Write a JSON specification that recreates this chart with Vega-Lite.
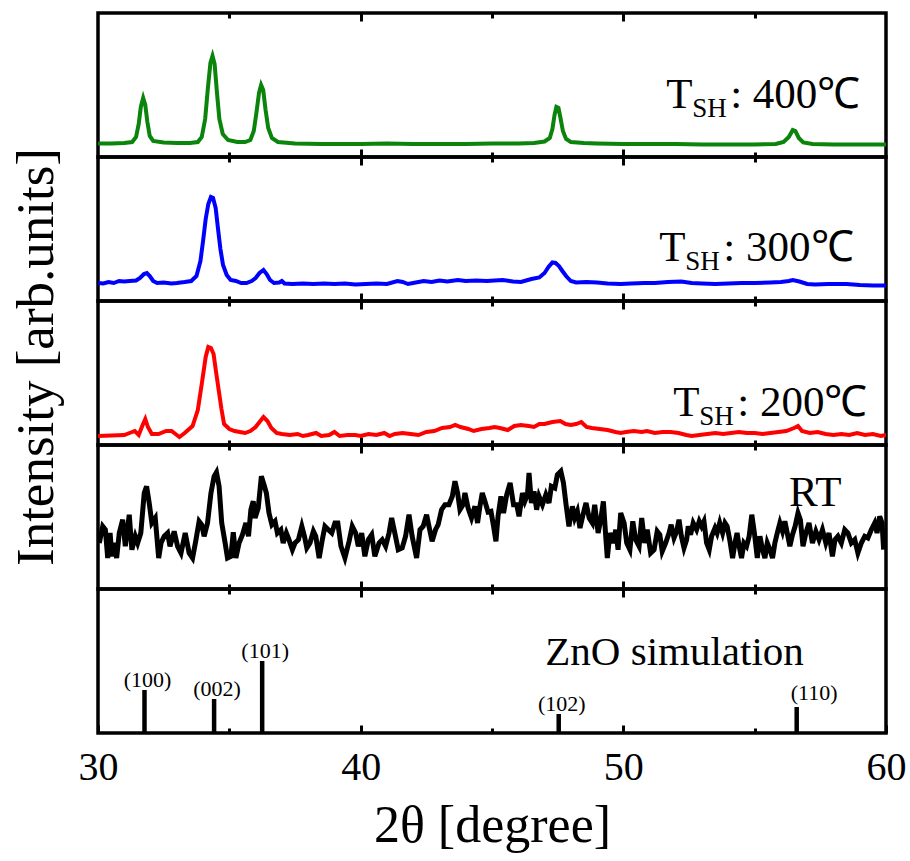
{
  "$schema": "https://vega.github.io/schema/vega-lite/v6.json",
  "background": "white",
  "padding": {"left": 9, "top": 9, "right": 5, "bottom": 5},
  "spacing": 0,
  "bounds": "flush",
  "config": {
    "view": {"stroke": "black", "strokeWidth": 3.5},
    "font": "Liberation Serif",
    "text": {"font": "Liberation Serif", "color": "black"}
  },
  "datasets": {
    "green": [
      {"theta":30.0,"intensity":13.5},{"theta":30.5,"intensity":13.5},{"theta":31.0,"intensity":14},{"theta":31.3,"intensity":15},{"theta":31.45,"intensity":20},{"theta":31.55,"intensity":33},{"theta":31.63,"intensity":50},{"theta":31.72,"intensity":59},{"theta":31.8,"intensity":52},{"theta":31.88,"intensity":35},{"theta":31.97,"intensity":21},{"theta":32.1,"intensity":16},{"theta":32.5,"intensity":14.5},{"theta":33.0,"intensity":14},{"theta":33.5,"intensity":14},{"theta":33.8,"intensity":15},{"theta":33.95,"intensity":20},{"theta":34.08,"intensity":38},{"theta":34.18,"intensity":68},{"theta":34.28,"intensity":94},{"theta":34.36,"intensity":101},{"theta":34.44,"intensity":93},{"theta":34.53,"intensity":64},{"theta":34.62,"intensity":38},{"theta":34.75,"intensity":23},{"theta":34.95,"intensity":17},{"theta":35.3,"intensity":15},{"theta":35.6,"intensity":15},{"theta":35.8,"intensity":17},{"theta":35.93,"intensity":26},{"theta":36.03,"intensity":44},{"theta":36.13,"intensity":64},{"theta":36.21,"intensity":72},{"theta":36.29,"intensity":67},{"theta":36.38,"intensity":47},{"theta":36.48,"intensity":29},{"theta":36.62,"intensity":19},{"theta":36.85,"intensity":15},{"theta":37.5,"intensity":13.5},{"theta":38.5,"intensity":13},{"theta":40,"intensity":13},{"theta":41,"intensity":13.5},{"theta":42,"intensity":13},{"theta":43,"intensity":13},{"theta":44,"intensity":13},{"theta":45,"intensity":13.5},{"theta":46,"intensity":13.5},{"theta":46.6,"intensity":14},{"theta":47.0,"intensity":15.5},{"theta":47.2,"intensity":19},{"theta":47.3,"intensity":28},{"theta":47.38,"intensity":42},{"theta":47.45,"intensity":50},{"theta":47.53,"intensity":49},{"theta":47.6,"intensity":40},{"theta":47.7,"intensity":26},{"theta":47.82,"intensity":18},{"theta":48.0,"intensity":15},{"theta":48.5,"intensity":14},{"theta":49,"intensity":13.5},{"theta":50,"intensity":13},{"theta":51,"intensity":13},{"theta":52,"intensity":13},{"theta":53,"intensity":12.5},{"theta":54,"intensity":12.5},{"theta":55,"intensity":12.5},{"theta":55.8,"intensity":13},{"theta":56.1,"intensity":15},{"theta":56.3,"intensity":20},{"theta":56.45,"intensity":27},{"theta":56.55,"intensity":26},{"theta":56.68,"intensity":19},{"theta":56.85,"intensity":14.5},{"theta":57.2,"intensity":13},{"theta":58,"intensity":12.5},{"theta":59,"intensity":12.5},{"theta":60,"intensity":12.5}
    ],
    "blue": [
      {"theta":30.0,"intensity":18},{"theta":30.2,"intensity":17.5},{"theta":30.4,"intensity":19},{"theta":30.6,"intensity":18},{"theta":30.8,"intensity":20},{"theta":31.0,"intensity":19.5},{"theta":31.2,"intensity":20},{"theta":31.45,"intensity":20.5},{"theta":31.6,"intensity":23},{"theta":31.75,"intensity":27},{"theta":31.86,"intensity":28},{"theta":31.97,"intensity":25},{"theta":32.1,"intensity":20},{"theta":32.25,"intensity":18},{"theta":32.5,"intensity":18.5},{"theta":32.8,"intensity":17.5},{"theta":33.0,"intensity":18},{"theta":33.3,"intensity":19},{"theta":33.55,"intensity":20},{"theta":33.75,"intensity":25},{"theta":33.9,"intensity":40},{"theta":34.0,"intensity":60},{"theta":34.1,"intensity":82},{"theta":34.2,"intensity":97},{"theta":34.3,"intensity":104},{"theta":34.38,"intensity":103},{"theta":34.48,"intensity":93},{"theta":34.57,"intensity":72},{"theta":34.66,"intensity":52},{"theta":34.76,"intensity":36},{"theta":34.9,"intensity":26},{"theta":35.05,"intensity":21},{"theta":35.25,"intensity":20},{"theta":35.45,"intensity":18},{"theta":35.65,"intensity":18},{"theta":35.85,"intensity":20},{"theta":36.0,"intensity":23},{"theta":36.15,"intensity":28},{"theta":36.3,"intensity":31},{"theta":36.42,"intensity":27},{"theta":36.55,"intensity":21},{"theta":36.7,"intensity":18},{"theta":36.9,"intensity":18.5},{"theta":37.0,"intensity":20},{"theta":37.1,"intensity":17.5},{"theta":37.4,"intensity":17},{"theta":37.8,"intensity":17.5},{"theta":38.2,"intensity":17},{"theta":38.6,"intensity":17.5},{"theta":39.0,"intensity":17},{"theta":39.4,"intensity":17.5},{"theta":39.8,"intensity":16.5},{"theta":40.2,"intensity":17},{"theta":40.6,"intensity":17.5},{"theta":41.0,"intensity":17},{"theta":41.4,"intensity":20},{"theta":41.6,"intensity":19},{"theta":41.8,"intensity":17},{"theta":42.1,"intensity":18.5},{"theta":42.4,"intensity":20},{"theta":42.7,"intensity":19},{"theta":43.0,"intensity":20.5},{"theta":43.3,"intensity":19.5},{"theta":43.7,"intensity":21},{"theta":44.0,"intensity":20},{"theta":44.4,"intensity":20.5},{"theta":44.8,"intensity":20},{"theta":45.1,"intensity":20.5},{"theta":45.4,"intensity":21},{"theta":45.8,"intensity":19.5},{"theta":46.1,"intensity":19},{"theta":46.5,"intensity":22},{"theta":46.8,"intensity":23.5},{"theta":47.0,"intensity":28},{"theta":47.15,"intensity":34},{"theta":47.3,"intensity":38.5},{"theta":47.42,"intensity":38},{"theta":47.55,"intensity":35},{"theta":47.68,"intensity":30},{"theta":47.82,"intensity":25},{"theta":48.0,"intensity":20},{"theta":48.2,"intensity":18.5},{"theta":48.6,"intensity":19},{"theta":49.0,"intensity":18.5},{"theta":49.4,"intensity":17.5},{"theta":49.9,"intensity":17},{"theta":50.3,"intensity":17.5},{"theta":50.8,"intensity":18},{"theta":51.2,"intensity":18},{"theta":51.7,"intensity":19},{"theta":52.2,"intensity":19.5},{"theta":52.6,"intensity":18},{"theta":53.0,"intensity":17.5},{"theta":53.5,"intensity":17},{"theta":54.0,"intensity":17.5},{"theta":54.5,"intensity":18},{"theta":55.0,"intensity":18},{"theta":55.6,"intensity":18.5},{"theta":56.0,"intensity":19},{"theta":56.3,"intensity":20},{"theta":56.45,"intensity":21},{"theta":56.7,"intensity":19.5},{"theta":57.0,"intensity":17},{"theta":57.3,"intensity":16.5},{"theta":57.8,"intensity":17},{"theta":58.5,"intensity":17},{"theta":59.0,"intensity":16},{"theta":59.5,"intensity":15.5},{"theta":60.0,"intensity":15.5}
    ],
    "red": [
      {"theta":30.0,"intensity":9},{"theta":30.5,"intensity":9.5},{"theta":31.0,"intensity":10},{"theta":31.2,"intensity":12},{"theta":31.4,"intensity":14},{"theta":31.55,"intensity":10},{"theta":31.7,"intensity":20},{"theta":31.8,"intensity":26},{"theta":31.9,"intensity":18},{"theta":32.05,"intensity":11},{"theta":32.3,"intensity":11},{"theta":32.6,"intensity":14},{"theta":32.8,"intensity":14},{"theta":33.0,"intensity":10},{"theta":33.1,"intensity":8},{"theta":33.3,"intensity":12},{"theta":33.6,"intensity":19},{"theta":33.8,"intensity":35},{"theta":33.95,"intensity":61},{"theta":34.1,"intensity":88},{"theta":34.2,"intensity":98},{"theta":34.3,"intensity":97},{"theta":34.4,"intensity":91},{"theta":34.5,"intensity":72},{"theta":34.6,"intensity":54},{"theta":34.7,"intensity":36},{"theta":34.8,"intensity":21},{"theta":35.0,"intensity":16},{"theta":35.2,"intensity":14},{"theta":35.4,"intensity":13},{"theta":35.6,"intensity":12},{"theta":35.8,"intensity":14},{"theta":36.0,"intensity":18},{"theta":36.15,"intensity":23},{"theta":36.3,"intensity":28},{"theta":36.45,"intensity":24},{"theta":36.6,"intensity":17},{"theta":36.8,"intensity":12},{"theta":37.0,"intensity":11},{"theta":37.3,"intensity":10},{"theta":37.6,"intensity":11},{"theta":37.8,"intensity":9},{"theta":38.0,"intensity":10},{"theta":38.3,"intensity":12},{"theta":38.5,"intensity":9},{"theta":38.8,"intensity":10},{"theta":39.0,"intensity":13},{"theta":39.2,"intensity":9},{"theta":39.5,"intensity":10},{"theta":39.8,"intensity":10},{"theta":40.0,"intensity":9},{"theta":40.3,"intensity":11},{"theta":40.6,"intensity":10},{"theta":40.9,"intensity":12},{"theta":41.1,"intensity":9},{"theta":41.3,"intensity":11},{"theta":41.6,"intensity":12},{"theta":41.9,"intensity":11},{"theta":42.2,"intensity":10},{"theta":42.5,"intensity":13},{"theta":42.8,"intensity":14},{"theta":43.1,"intensity":17},{"theta":43.4,"intensity":18},{"theta":43.6,"intensity":20},{"theta":43.8,"intensity":18},{"theta":44.1,"intensity":16},{"theta":44.3,"intensity":14},{"theta":44.6,"intensity":16},{"theta":44.9,"intensity":17},{"theta":45.1,"intensity":18},{"theta":45.3,"intensity":17},{"theta":45.6,"intensity":15},{"theta":45.85,"intensity":19},{"theta":46.1,"intensity":20},{"theta":46.4,"intensity":19},{"theta":46.6,"intensity":18},{"theta":46.8,"intensity":21},{"theta":47.0,"intensity":21},{"theta":47.3,"intensity":23},{"theta":47.6,"intensity":24},{"theta":47.8,"intensity":21},{"theta":48.0,"intensity":20},{"theta":48.2,"intensity":21},{"theta":48.4,"intensity":23},{"theta":48.6,"intensity":18},{"theta":48.8,"intensity":17},{"theta":49.1,"intensity":16},{"theta":49.4,"intensity":15},{"theta":49.7,"intensity":13},{"theta":49.9,"intensity":12},{"theta":50.1,"intensity":13},{"theta":50.4,"intensity":14},{"theta":50.7,"intensity":13},{"theta":50.9,"intensity":14},{"theta":51.2,"intensity":12},{"theta":51.5,"intensity":13},{"theta":51.8,"intensity":13},{"theta":52.1,"intensity":12},{"theta":52.4,"intensity":10},{"theta":52.6,"intensity":9},{"theta":52.9,"intensity":10},{"theta":53.2,"intensity":11},{"theta":53.5,"intensity":12},{"theta":53.8,"intensity":11},{"theta":54.1,"intensity":12},{"theta":54.4,"intensity":13},{"theta":54.7,"intensity":12},{"theta":55.0,"intensity":12},{"theta":55.3,"intensity":11},{"theta":55.6,"intensity":12},{"theta":55.9,"intensity":13},{"theta":56.2,"intensity":14},{"theta":56.5,"intensity":17},{"theta":56.65,"intensity":19},{"theta":56.8,"intensity":14},{"theta":57.1,"intensity":12},{"theta":57.4,"intensity":13},{"theta":57.7,"intensity":11},{"theta":58.0,"intensity":10},{"theta":58.3,"intensity":11},{"theta":58.6,"intensity":10},{"theta":58.9,"intensity":12},{"theta":59.2,"intensity":10},{"theta":59.5,"intensity":11},{"theta":59.8,"intensity":9},{"theta":60.0,"intensity":10}
    ],
    "rt": [
      {"theta":30.05,"intensity":46},{"theta":30.18,"intensity":62.7},{"theta":30.28,"intensity":59.3},{"theta":30.37,"intensity":31},{"theta":30.46,"intensity":56},{"theta":30.53,"intensity":32.7},{"theta":30.62,"intensity":46},{"theta":30.71,"intensity":31},{"theta":30.81,"intensity":56},{"theta":30.94,"intensity":69.3},{"theta":31.04,"intensity":42.7},{"theta":31.19,"intensity":74.3},{"theta":31.29,"intensity":39.3},{"theta":31.42,"intensity":52.7},{"theta":31.51,"intensity":46},{"theta":31.63,"intensity":56},{"theta":31.76,"intensity":96},{"theta":31.85,"intensity":102.7},{"theta":31.95,"intensity":86},{"theta":32.05,"intensity":66},{"theta":32.18,"intensity":71},{"theta":32.31,"intensity":31},{"theta":32.40,"intensity":46},{"theta":32.52,"intensity":52.7},{"theta":32.65,"intensity":56},{"theta":32.74,"intensity":42.7},{"theta":32.90,"intensity":57.7},{"theta":33.03,"intensity":42.7},{"theta":33.16,"intensity":36},{"theta":33.32,"intensity":56},{"theta":33.47,"intensity":36},{"theta":33.60,"intensity":31},{"theta":33.73,"intensity":49.3},{"theta":33.85,"intensity":67.7},{"theta":33.95,"intensity":64.3},{"theta":34.04,"intensity":52.7},{"theta":34.17,"intensity":66},{"theta":34.30,"intensity":96},{"theta":34.42,"intensity":112.7},{"theta":34.51,"intensity":116.7},{"theta":34.61,"intensity":102.7},{"theta":34.71,"intensity":66},{"theta":34.84,"intensity":46},{"theta":34.93,"intensity":31},{"theta":35.06,"intensity":32.7},{"theta":35.15,"intensity":56.7},{"theta":35.25,"intensity":31},{"theta":35.37,"intensity":46},{"theta":35.50,"intensity":54.3},{"theta":35.63,"intensity":66},{"theta":35.73,"intensity":52.7},{"theta":35.82,"intensity":79.3},{"theta":35.91,"intensity":87.7},{"theta":35.98,"intensity":71},{"theta":36.10,"intensity":81},{"theta":36.22,"intensity":112.7},{"theta":36.32,"intensity":104.3},{"theta":36.41,"intensity":96},{"theta":36.51,"intensity":76},{"theta":36.62,"intensity":64.3},{"theta":36.74,"intensity":67.7},{"theta":36.83,"intensity":56},{"theta":36.96,"intensity":59.3},{"theta":37.05,"intensity":46},{"theta":37.17,"intensity":56},{"theta":37.27,"intensity":49.3},{"theta":37.40,"intensity":39.3},{"theta":37.50,"intensity":46},{"theta":37.63,"intensity":49.3},{"theta":37.76,"intensity":62.7},{"theta":37.86,"intensity":52.7},{"theta":37.95,"intensity":41},{"theta":38.07,"intensity":46},{"theta":38.20,"intensity":57.7},{"theta":38.29,"intensity":52.7},{"theta":38.42,"intensity":31},{"theta":38.54,"intensity":49.3},{"theta":38.64,"intensity":62.7},{"theta":38.77,"intensity":59.3},{"theta":38.90,"intensity":56},{"theta":39.02,"intensity":66},{"theta":39.13,"intensity":66},{"theta":39.25,"intensity":42.7},{"theta":39.40,"intensity":31},{"theta":39.56,"intensity":47.7},{"theta":39.68,"intensity":62.7},{"theta":39.81,"intensity":56},{"theta":39.91,"intensity":42.7},{"theta":40.04,"intensity":56},{"theta":40.16,"intensity":32.7},{"theta":40.29,"intensity":49.3},{"theta":40.42,"intensity":54.3},{"theta":40.54,"intensity":32.7},{"theta":40.70,"intensity":46},{"theta":40.82,"intensity":49.3},{"theta":40.95,"intensity":42.7},{"theta":41.08,"intensity":56},{"theta":41.18,"intensity":71},{"theta":41.30,"intensity":56},{"theta":41.43,"intensity":39.3},{"theta":41.58,"intensity":41},{"theta":41.71,"intensity":52.7},{"theta":41.84,"intensity":74.3},{"theta":41.96,"intensity":52.7},{"theta":42.13,"intensity":31},{"theta":42.26,"intensity":59.3},{"theta":42.38,"intensity":62.7},{"theta":42.51,"intensity":74.3},{"theta":42.60,"intensity":62.7},{"theta":42.72,"intensity":47.7},{"theta":42.85,"intensity":59.3},{"theta":42.95,"intensity":64.3},{"theta":43.08,"intensity":79.3},{"theta":43.21,"intensity":84.3},{"theta":43.36,"intensity":84.3},{"theta":43.49,"intensity":92.7},{"theta":43.59,"intensity":107.7},{"theta":43.69,"intensity":96},{"theta":43.78,"intensity":79.3},{"theta":43.90,"intensity":84.3},{"theta":43.97,"intensity":96},{"theta":44.09,"intensity":81},{"theta":44.22,"intensity":71},{"theta":44.35,"intensity":82.7},{"theta":44.45,"intensity":66},{"theta":44.54,"intensity":82.7},{"theta":44.63,"intensity":96},{"theta":44.73,"intensity":87.7},{"theta":44.85,"intensity":77},{"theta":44.96,"intensity":77.7},{"theta":45.06,"intensity":62.7},{"theta":45.15,"intensity":47.7},{"theta":45.23,"intensity":72.7},{"theta":45.34,"intensity":92.7},{"theta":45.44,"intensity":76},{"theta":45.56,"intensity":94.3},{"theta":45.69,"intensity":106},{"theta":45.82,"intensity":84.3},{"theta":45.94,"intensity":84.3},{"theta":46.03,"intensity":72.7},{"theta":46.16,"intensity":96},{"theta":46.25,"intensity":87.7},{"theta":46.35,"intensity":94.3},{"theta":46.41,"intensity":116},{"theta":46.50,"intensity":86},{"theta":46.60,"intensity":97.7},{"theta":46.70,"intensity":79.3},{"theta":46.79,"intensity":92.7},{"theta":46.92,"intensity":84.3},{"theta":47.05,"intensity":94.3},{"theta":47.17,"intensity":86},{"theta":47.26,"intensity":102.7},{"theta":47.39,"intensity":101},{"theta":47.49,"intensity":114.3},{"theta":47.62,"intensity":117.7},{"theta":47.72,"intensity":106},{"theta":47.82,"intensity":84.3},{"theta":47.93,"intensity":62.7},{"theta":48.06,"intensity":82.7},{"theta":48.15,"intensity":71},{"theta":48.25,"intensity":77.7},{"theta":48.35,"intensity":61},{"theta":48.48,"intensity":76},{"theta":48.58,"intensity":86},{"theta":48.70,"intensity":71},{"theta":48.82,"intensity":66},{"theta":48.91,"intensity":84.3},{"theta":49.04,"intensity":56},{"theta":49.14,"intensity":69.3},{"theta":49.24,"intensity":87.7},{"theta":49.33,"intensity":52.7},{"theta":49.39,"intensity":31},{"theta":49.49,"intensity":56},{"theta":49.62,"intensity":46},{"theta":49.71,"intensity":59.3},{"theta":49.80,"intensity":39.3},{"theta":49.90,"intensity":76},{"theta":50.03,"intensity":66},{"theta":50.13,"intensity":46},{"theta":50.25,"intensity":39.3},{"theta":50.36,"intensity":67.7},{"theta":50.47,"intensity":49.3},{"theta":50.60,"intensity":42.7},{"theta":50.70,"intensity":71},{"theta":50.81,"intensity":46},{"theta":50.91,"intensity":59.3},{"theta":51.04,"intensity":36},{"theta":51.17,"intensity":39.3},{"theta":51.29,"intensity":57.7},{"theta":51.39,"intensity":54.3},{"theta":51.48,"intensity":37.7},{"theta":51.61,"intensity":46},{"theta":51.74,"intensity":56},{"theta":51.82,"intensity":64.3},{"theta":51.93,"intensity":51},{"theta":52.03,"intensity":57.7},{"theta":52.12,"intensity":69.3},{"theta":52.21,"intensity":52.7},{"theta":52.31,"intensity":41},{"theta":52.41,"intensity":49.3},{"theta":52.47,"intensity":62.7},{"theta":52.56,"intensity":54.3},{"theta":52.66,"intensity":66},{"theta":52.79,"intensity":59.3},{"theta":52.89,"intensity":67.7},{"theta":52.98,"intensity":62.7},{"theta":53.07,"intensity":67.7},{"theta":53.17,"intensity":46},{"theta":53.27,"intensity":39.3},{"theta":53.36,"intensity":52.7},{"theta":53.49,"intensity":61},{"theta":53.57,"intensity":56},{"theta":53.67,"intensity":66},{"theta":53.78,"intensity":56},{"theta":53.87,"intensity":66},{"theta":53.95,"intensity":62.7},{"theta":54.05,"intensity":49.3},{"theta":54.16,"intensity":31},{"theta":54.25,"intensity":46},{"theta":54.33,"intensity":56},{"theta":54.41,"intensity":42.7},{"theta":54.50,"intensity":31},{"theta":54.59,"intensity":46},{"theta":54.69,"intensity":42.7},{"theta":54.79,"intensity":52.7},{"theta":54.89,"intensity":74.3},{"theta":54.99,"intensity":56},{"theta":55.10,"intensity":31},{"theta":55.20,"intensity":52.7},{"theta":55.30,"intensity":39.3},{"theta":55.39,"intensity":31},{"theta":55.48,"intensity":46},{"theta":55.58,"intensity":39.3},{"theta":55.68,"intensity":31},{"theta":55.77,"intensity":46},{"theta":55.86,"intensity":56},{"theta":55.96,"intensity":66},{"theta":56.06,"intensity":57.7},{"theta":56.15,"intensity":67.7},{"theta":56.24,"intensity":56},{"theta":56.34,"intensity":42.7},{"theta":56.44,"intensity":54.3},{"theta":56.54,"intensity":62.7},{"theta":56.65,"intensity":76},{"theta":56.74,"intensity":69.3},{"theta":56.84,"intensity":42.7},{"theta":56.95,"intensity":56},{"theta":57.07,"intensity":66},{"theta":57.20,"intensity":46},{"theta":57.33,"intensity":57.7},{"theta":57.45,"intensity":49.3},{"theta":57.58,"intensity":59.3},{"theta":57.71,"intensity":46},{"theta":57.83,"intensity":56},{"theta":57.96,"intensity":32.7},{"theta":58.06,"intensity":49.3},{"theta":58.17,"intensity":52.7},{"theta":58.30,"intensity":46},{"theta":58.43,"intensity":59.3},{"theta":58.55,"intensity":56},{"theta":58.68,"intensity":46},{"theta":58.81,"intensity":49.3},{"theta":58.93,"intensity":36},{"theta":59.06,"intensity":46},{"theta":59.19,"intensity":52.7},{"theta":59.31,"intensity":51},{"theta":59.44,"intensity":59.3},{"theta":59.57,"intensity":66},{"theta":59.66,"intensity":56},{"theta":59.76,"intensity":72.7},{"theta":59.85,"intensity":66},{"theta":59.91,"intensity":39.3}
    ],
    "sticks": [
      {"theta":31.77,"intensity":43,"hkl":"(100)"},
      {"theta":34.42,"intensity":34,"hkl":"(002)"},
      {"theta":36.25,"intensity":72,"hkl":"(101)"},
      {"theta":47.54,"intensity":19,"hkl":"(102)"},
      {"theta":56.6,"intensity":26,"hkl":"(110)"}
    ]
  },
  "vconcat": [
    {
      "width": 788, "height": 144,
      "layer": [
        {
          "data": {"name": "green"},
          "mark": {"type": "line", "color": "#0b840b", "strokeWidth": 4, "clip": true},
          "encoding": {
            "x": {"field": "theta", "type": "quantitative", "scale": {"domain": [30, 60], "nice": false, "zero": false},
              "axis": {"orient": "bottom", "values": [35, 40, 45, 50, 55], "labels": false, "domain": false, "grid": false, "title": null, "tickColor": "black", "tickWidth": 3, "tickSize": {"condition": {"test": "datum.value % 10 === 0", "value": -8}, "value": -5}}},
            "y": {"field": "intensity", "type": "quantitative", "scale": {"domain": [0, 144], "nice": false, "zero": false}, "axis": null}
          }
        },
        {
          "data": {"values": [{"x": 51.63, "y": 49, "temp": ": 400℃"}]},
          "mark": {"type": "text", "align": "left", "baseline": "alphabetic", "fontSize": 43, "font": "Liberation Serif", "text": "T"},
          "encoding": {
            "x": {"field": "x", "type": "quantitative",
              "axis": {"orient": "top", "values": [35, 40, 45, 50, 55], "labels": false, "domain": false, "grid": false, "title": null, "tickColor": "black", "tickWidth": 3, "tickSize": {"condition": {"test": "datum.value % 10 === 0", "value": -8}, "value": -5}}},
            "y": {"field": "y", "type": "quantitative", "axis": null}
          }
        },
        {
          "data": {"values": [{"x": 51.63, "y": 49, "temp": ": 400℃"}]},
          "mark": {"type": "text", "align": "left", "baseline": "alphabetic", "fontSize": 27, "font": "Liberation Serif", "dx": 26, "dy": 9, "text": "SH"},
          "encoding": {
            "x": {"field": "x", "type": "quantitative", "axis": null},
            "y": {"field": "y", "type": "quantitative", "axis": null}
          }
        },
        {
          "data": {"values": [{"x": 51.63, "y": 49, "temp": ": 400℃"}]},
          "mark": {"type": "text", "align": "left", "baseline": "alphabetic", "fontSize": 43, "font": "Liberation Serif", "dx": 64},
          "encoding": {
            "x": {"field": "x", "type": "quantitative", "axis": null},
            "y": {"field": "y", "type": "quantitative", "axis": null},
            "text": {"field": "temp"}
          }
        }
      ],
      "resolve": {"axis": {"x": "independent"}}
    },
    {
      "width": 788, "height": 144,
      "layer": [
        {
          "data": {"name": "blue"},
          "mark": {"type": "line", "color": "#0000ff", "strokeWidth": 4, "clip": true},
          "encoding": {
            "x": {"field": "theta", "type": "quantitative", "scale": {"domain": [30, 60], "nice": false, "zero": false},
              "axis": {"orient": "bottom", "values": [35, 40, 45, 50, 55], "labels": false, "domain": false, "grid": false, "title": null, "tickColor": "black", "tickWidth": 3, "tickSize": {"condition": {"test": "datum.value % 10 === 0", "value": -8}, "value": -5}}},
            "y": {"field": "intensity", "type": "quantitative", "scale": {"domain": [0, 144], "nice": false, "zero": false}, "axis": null}
          }
        },
        {
          "data": {"values": [{"x": 51.37, "y": 40, "temp": ": 300℃"}]},
          "mark": {"type": "text", "align": "left", "baseline": "alphabetic", "fontSize": 43, "font": "Liberation Serif", "text": "T"},
          "encoding": {
            "x": {"field": "x", "type": "quantitative",
              "axis": {"orient": "top", "values": [35, 40, 45, 50, 55], "labels": false, "domain": false, "grid": false, "title": null, "tickColor": "black", "tickWidth": 3, "tickSize": {"condition": {"test": "datum.value % 10 === 0", "value": -8}, "value": -5}}},
            "y": {"field": "y", "type": "quantitative", "axis": null}
          }
        },
        {
          "data": {"values": [{"x": 51.37, "y": 40, "temp": ": 300℃"}]},
          "mark": {"type": "text", "align": "left", "baseline": "alphabetic", "fontSize": 27, "font": "Liberation Serif", "dx": 26, "dy": 9, "text": "SH"},
          "encoding": {
            "x": {"field": "x", "type": "quantitative", "axis": null},
            "y": {"field": "y", "type": "quantitative", "axis": null}
          }
        },
        {
          "data": {"values": [{"x": 51.37, "y": 40, "temp": ": 300℃"}]},
          "mark": {"type": "text", "align": "left", "baseline": "alphabetic", "fontSize": 43, "font": "Liberation Serif", "dx": 64},
          "encoding": {
            "x": {"field": "x", "type": "quantitative", "axis": null},
            "y": {"field": "y", "type": "quantitative", "axis": null},
            "text": {"field": "temp"}
          }
        }
      ],
      "resolve": {"axis": {"x": "independent"}}
    },
    {
      "width": 788, "height": 144,
      "layer": [
        {
          "data": {"name": "red"},
          "mark": {"type": "line", "color": "#ff0000", "strokeWidth": 4, "clip": true},
          "encoding": {
            "x": {"field": "theta", "type": "quantitative", "scale": {"domain": [30, 60], "nice": false, "zero": false},
              "axis": {"orient": "bottom", "values": [35, 40, 45, 50, 55], "labels": false, "domain": false, "grid": false, "title": null, "tickColor": "black", "tickWidth": 3, "tickSize": {"condition": {"test": "datum.value % 10 === 0", "value": -8}, "value": -5}}},
            "y": {"field": "intensity", "type": "quantitative", "scale": {"domain": [0, 144], "nice": false, "zero": false}, "axis": null}
          }
        },
        {
          "data": {"values": [{"x": 51.9, "y": 29, "temp": ": 200℃"}]},
          "mark": {"type": "text", "align": "left", "baseline": "alphabetic", "fontSize": 43, "font": "Liberation Serif", "text": "T"},
          "encoding": {
            "x": {"field": "x", "type": "quantitative",
              "axis": {"orient": "top", "values": [35, 40, 45, 50, 55], "labels": false, "domain": false, "grid": false, "title": null, "tickColor": "black", "tickWidth": 3, "tickSize": {"condition": {"test": "datum.value % 10 === 0", "value": -8}, "value": -5}}},
            "y": {"field": "y", "type": "quantitative", "axis": null}
          }
        },
        {
          "data": {"values": [{"x": 51.9, "y": 29, "temp": ": 200℃"}]},
          "mark": {"type": "text", "align": "left", "baseline": "alphabetic", "fontSize": 27, "font": "Liberation Serif", "dx": 26, "dy": 9, "text": "SH"},
          "encoding": {
            "x": {"field": "x", "type": "quantitative", "axis": null},
            "y": {"field": "y", "type": "quantitative", "axis": null}
          }
        },
        {
          "data": {"values": [{"x": 51.9, "y": 29, "temp": ": 200℃"}]},
          "mark": {"type": "text", "align": "left", "baseline": "alphabetic", "fontSize": 43, "font": "Liberation Serif", "dx": 64},
          "encoding": {
            "x": {"field": "x", "type": "quantitative", "axis": null},
            "y": {"field": "y", "type": "quantitative", "axis": null},
            "text": {"field": "temp"}
          }
        },
        {
          "data": {"values": [{"x": 28.7, "y": 88, "label": "Intensity [arb.units]"}]},
          "mark": {"type": "text", "align": "center", "baseline": "bottom", "angle": 270, "fontSize": 53, "font": "Liberation Serif", "clip": false},
          "encoding": {
            "x": {"field": "x", "type": "quantitative", "axis": null},
            "y": {"field": "y", "type": "quantitative", "axis": null},
            "text": {"field": "label"}
          }
        }
      ],
      "resolve": {"axis": {"x": "independent"}}
    },
    {
      "width": 788, "height": 144,
      "layer": [
        {
          "data": {"name": "rt"},
          "mark": {"type": "line", "color": "black", "strokeWidth": 5, "clip": true},
          "encoding": {
            "x": {"field": "theta", "type": "quantitative", "scale": {"domain": [30, 60], "nice": false, "zero": false},
              "axis": {"orient": "bottom", "values": [35, 40, 45, 50, 55], "labels": false, "domain": false, "grid": false, "title": null, "tickColor": "black", "tickWidth": 3, "tickSize": {"condition": {"test": "datum.value % 10 === 0", "value": -8}, "value": -5}}},
            "y": {"field": "intensity", "type": "quantitative", "scale": {"domain": [0, 144], "nice": false, "zero": false}, "axis": null}
          }
        },
        {
          "data": {"values": [{"x": 56.31, "y": 83, "label": "RT"}]},
          "mark": {"type": "text", "align": "left", "baseline": "alphabetic", "fontSize": 43, "font": "Liberation Serif"},
          "encoding": {
            "x": {"field": "x", "type": "quantitative",
              "axis": {"orient": "top", "values": [35, 40, 45, 50, 55], "labels": false, "domain": false, "grid": false, "title": null, "tickColor": "black", "tickWidth": 3, "tickSize": {"condition": {"test": "datum.value % 10 === 0", "value": -8}, "value": -5}}},
            "y": {"field": "y", "type": "quantitative", "axis": null},
            "text": {"field": "label"}
          }
        }
      ],
      "resolve": {"axis": {"x": "independent"}}
    },
    {
      "width": 788, "height": 144,
      "layer": [
        {
          "data": {"name": "sticks"},
          "mark": {"type": "rule", "color": "black", "strokeWidth": 4.5, "strokeCap": "butt"},
          "encoding": {
            "x": {"field": "theta", "type": "quantitative", "scale": {"domain": [30, 60], "nice": false, "zero": false},
              "axis": {"orient": "bottom", "values": [30, 35, 40, 45, 50, 55, 60], "labelExpr": "datum.value % 10 === 0 ? datum.label : ''", "labelFont": "Liberation Serif", "labelFontSize": 40, "labelColor": "black", "labelPadding": 22, "labelFlush": false, "labelOverlap": false, "domain": false, "grid": false, "title": "2θ [degree]", "titleFont": "Liberation Serif", "titleFontSize": 52, "titleFontWeight": "normal", "titleColor": "black", "titlePadding": 10, "tickColor": "black", "tickWidth": 3, "tickSize": {"condition": {"test": "datum.value % 10 === 0", "value": -8}, "value": -5}}},
            "y": {"field": "intensity", "type": "quantitative", "scale": {"domain": [0, 144], "nice": false, "zero": false}, "axis": null},
            "y2": {"datum": 0}
          }
        },
        {
          "data": {"name": "sticks"},
          "transform": [{"filter": "datum.hkl != '(110)'"}],
          "mark": {"type": "text", "align": "center", "baseline": "bottom", "fontSize": 22, "font": "Liberation Serif", "dx": 3, "dy": 2},
          "encoding": {
            "x": {"field": "theta", "type": "quantitative",
              "axis": {"orient": "top", "values": [35, 40, 45, 50, 55], "labels": false, "domain": false, "grid": false, "title": null, "tickColor": "black", "tickWidth": 3, "tickSize": {"condition": {"test": "datum.value % 10 === 0", "value": -8}, "value": -5}}},
            "y": {"field": "intensity", "type": "quantitative", "axis": null},
            "text": {"field": "hkl"}
          }
        },
        {
          "data": {"name": "sticks"},
          "transform": [{"filter": "datum.hkl == '(110)'"}],
          "mark": {"type": "text", "align": "left", "baseline": "bottom", "fontSize": 22, "font": "Liberation Serif", "dx": -6, "dy": -2},
          "encoding": {
            "x": {"field": "theta", "type": "quantitative", "axis": null},
            "y": {"field": "intensity", "type": "quantitative", "axis": null},
            "text": {"field": "hkl"}
          }
        },
        {
          "data": {"values": [{"x": 47.03, "y": 68, "label": "ZnO simulation"}]},
          "mark": {"type": "text", "align": "left", "baseline": "alphabetic", "fontSize": 41, "font": "Liberation Serif"},
          "encoding": {
            "x": {"field": "x", "type": "quantitative", "axis": null},
            "y": {"field": "y", "type": "quantitative", "axis": null},
            "text": {"field": "label"}
          }
        }
      ],
      "resolve": {"axis": {"x": "independent"}}
    }
  ]
}
